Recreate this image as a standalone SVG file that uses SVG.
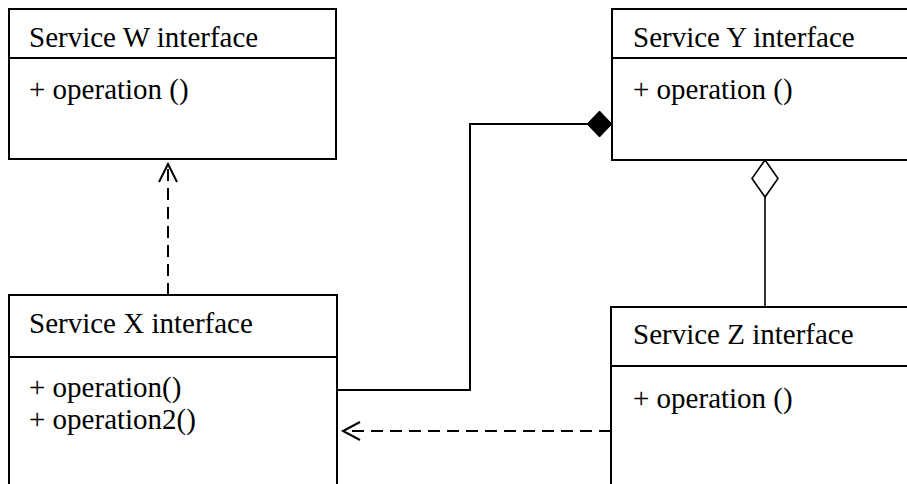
<svg xmlns="http://www.w3.org/2000/svg" width="907" height="484" viewBox="0 0 907 484" font-family="Liberation Serif">
<style>
.box{fill:#fff;stroke:#000;stroke-width:2}
.sep{stroke:#000;stroke-width:2}
.ln{fill:none;stroke:#000;stroke-width:2}
.dash{fill:none;stroke:#000;stroke-width:2;stroke-dasharray:12 7}
</style>
<rect width="907" height="484" fill="#fff"/>
<g id="connectors">
<line class="dash" x1="168" y1="295" x2="168" y2="165"/>
<polyline class="ln" points="159,182 168,164 177,182"/>
<polyline class="ln" points="338,390 470,390 470,124 588,124"/>
<polygon points="612,124 599.5,111 587,124 599.5,137" fill="#000" stroke="#000" stroke-width="1"/>
<line x1="765" y1="197" x2="765" y2="307" stroke="#000" stroke-width="1.6"/>
<polygon points="765,160 778,178.5 765,197 752,178.5" fill="#fff" stroke="#000" stroke-width="1.6"/>
<line class="dash" x1="611" y1="431" x2="345" y2="431"/>
<polyline class="ln" points="360,422 343,431 360,440"/>
</g>
<g id="nodeW">
<rect class="box" x="9" y="9" width="327" height="150"/>
<line class="sep" x1="9" y1="58" x2="336" y2="58"/>
</g>
<g id="nodeY">
<rect class="box" x="612" y="9" width="310" height="151"/>
<line class="sep" x1="612" y1="58" x2="922" y2="58"/>
</g>
<g id="nodeX">
<rect class="box" x="9" y="295" width="328" height="200"/>
<line class="sep" x1="9" y1="357" x2="337" y2="357"/>
</g>
<g id="nodeZ">
<rect class="box" x="611" y="307" width="311" height="200"/>
<line class="sep" x1="611" y1="366" x2="922" y2="366"/>
</g>
<text x="29" y="47" font-family="Liberation Serif" font-size="29">Service W interface</text>
<text x="29" y="99" font-family="Liberation Serif" font-size="29">+ operation ()</text>
<text x="633" y="47" font-family="Liberation Serif" font-size="29">Service Y interface</text>
<text x="633" y="99" font-family="Liberation Serif" font-size="29">+ operation ()</text>
<text x="29" y="333" font-family="Liberation Serif" font-size="29">Service X interface</text>
<text x="29" y="397" font-family="Liberation Serif" font-size="29">+ operation()</text>
<text x="29" y="429" font-family="Liberation Serif" font-size="29">+ operation2()</text>
<text x="633" y="344" font-family="Liberation Serif" font-size="29">Service Z interface</text>
<text x="633" y="408" font-family="Liberation Serif" font-size="29">+ operation ()</text>
</svg>
